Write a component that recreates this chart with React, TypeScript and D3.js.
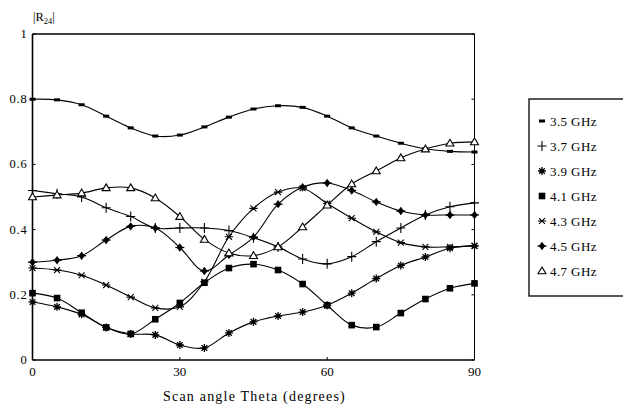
import React from "react";
import * as d3 from "d3";

const angles = [0, 5, 10, 15, 20, 25, 30, 35, 40, 45, 50, 55, 60, 65, 70, 75, 80, 85, 90];
const s35 = [0.80, 0.798, 0.783, 0.748, 0.712, 0.687, 0.69, 0.715, 0.745, 0.77, 0.78, 0.775, 0.748, 0.712, 0.687, 0.665, 0.648, 0.64, 0.638];
const s37 = [0.52, 0.51, 0.50, 0.467, 0.44, 0.405, 0.405, 0.405, 0.397, 0.375, 0.347, 0.31, 0.295, 0.317, 0.363, 0.405, 0.445, 0.47, 0.482];
const s39 = [0.178, 0.163, 0.14, 0.10, 0.08, 0.077, 0.046, 0.037, 0.083, 0.117, 0.135, 0.147, 0.168, 0.205, 0.25, 0.29, 0.316, 0.343, 0.35];
const s41 = [0.205, 0.19, 0.145, 0.10, 0.08, 0.125, 0.175, 0.237, 0.282, 0.294, 0.276, 0.233, 0.168, 0.107, 0.101, 0.144, 0.187, 0.22, 0.235];
const s43 = [0.282, 0.276, 0.26, 0.23, 0.193, 0.16, 0.163, 0.24, 0.378, 0.465, 0.515, 0.527, 0.48, 0.435, 0.393, 0.36, 0.347, 0.347, 0.35];
const s45 = [0.30, 0.306, 0.32, 0.368, 0.41, 0.405, 0.345, 0.273, 0.322, 0.377, 0.478, 0.53, 0.543, 0.52, 0.485, 0.457, 0.445, 0.445, 0.445];
const s47 = [0.50, 0.506, 0.512, 0.528, 0.528, 0.497, 0.44, 0.37, 0.328, 0.32, 0.347, 0.408, 0.475, 0.54, 0.58, 0.62, 0.647, 0.665, 0.669];

const seriesLabels = ["3.5 GHz", "3.7 GHz", "3.9 GHz", "4.1 GHz", "4.3 GHz", "4.5 GHz", "4.7 GHz"];
const markerTypes = ["dash", "plus", "star", "square", "xstar", "diamond", "triangle"];
const seriesValues = [s35, s37, s39, s41, s43, s45, s47];

const yTicks = [0, 0.2, 0.4, 0.6, 0.8, 1];
const yTickLabels = ["0", "0.2", "0.4", "0.6", "0.8", "1"];
const xTicks = [0, 30, 60, 90];

const font = "'Liberation Serif', 'DejaVu Serif', serif";

function Marker({ type, x, y }: { type: string; x: number; y: number }) {
  const s = 3.5;
  switch (type) {
    case "dash":
      return <rect x={x - 3} y={y - 1.5} width={6} height={3} fill="#000" />;
    case "plus":
      return (
        <path d={`M${x - s - 1},${y}H${x + s + 1}M${x},${y - s - 1.5}V${y + s + 1.5}`} stroke="#000" strokeWidth={1.1} fill="none" />
      );
    case "star": {
      const r = 4;
      let d = "";
      for (let i = 0; i < 4; i++) {
        const a = (Math.PI / 4) * i;
        d += `M${x - r * Math.cos(a)},${y - r * Math.sin(a)}L${x + r * Math.cos(a)},${y + r * Math.sin(a)}`;
      }
      return (
        <g>
          <path d={d} stroke="#000" strokeWidth={1.3} fill="none" />
          <circle cx={x} cy={y} r={1.8} fill="#000" />
        </g>
      );
    }
    case "square":
      return <rect x={x - 3.3} y={y - 3.3} width={6.6} height={6.6} fill="#000" />;
    case "xstar": {
      const r = 4.2;
      let d = "";
      const angs = [Math.PI / 4, -Math.PI / 4, 0];
      for (const a of angs) {
        d += `M${x - r * Math.cos(a)},${y - r * Math.sin(a)}L${x + r * Math.cos(a)},${y + r * Math.sin(a)}`;
      }
      return <path d={d} stroke="#000" strokeWidth={1.1} fill="none" />;
    }
    case "diamond":
      return (
        <g>
          <path d={`M${x},${y - 4.2}L${x + 3.2},${y}L${x},${y + 4.2}L${x - 3.2},${y}Z`} fill="#000" />
          <path d={`M${x - 4.5},${y}H${x + 4.5}`} stroke="#000" strokeWidth={1.3} />
        </g>
      );
    case "triangle":
      return <path d={`M${x},${y - 4}L${x + 4},${y + 2.8}L${x - 4},${y + 2.8}Z`} fill="#fff" stroke="#000" strokeWidth={1.1} />;
    default:
      return null;
  }
}

export default function App() {
  const W = 623;
  const H = 414;
  const x0 = 32.5;
  const x1 = 474.5;
  const yTop = 34;
  const yBot = 360;

  const x = d3.scaleLinear().domain([0, 90]).range([x0, x1]);
  const y = d3.scaleLinear().domain([0, 1]).range([yBot, yTop]);

  const line = d3
    .line<number>()
    .x((_, i) => x(angles[i]))
    .y((v) => y(v))
    .curve(d3.curveCatmullRom.alpha(0.5));

  const legX = 529;
  const legY = 99;
  const legH = 197;

  return (
    <svg
      width={W}
      height={H}
      style={{ position: "absolute", left: 0, top: 0, background: "#fff" }}
      fontFamily={font}
    >
      <rect x={0} y={0} width={W} height={H} fill="#fff" />
      {/* frame */}
      <line x1={x0} x2={x1} y1={yTop} y2={yTop} stroke="#000" strokeWidth={1.3} />
      <line x1={x1} x2={x1} y1={yTop} y2={yBot} stroke="#000" strokeWidth={1} />
      <line x1={x0} x2={x0} y1={yTop} y2={yBot} stroke="#000" strokeWidth={1.6} />
      <line x1={x0} x2={x1} y1={yBot} y2={yBot} stroke="#000" strokeWidth={1.3} />

      {/* y ticks */}
      {yTicks.map((t, i) => (
        <g key={"yt" + i}>
          <line x1={x0} x2={x0 + 3} y1={y(t)} y2={y(t)} stroke="#000" />
          <line x1={x1} x2={x1 - 3} y1={y(t)} y2={y(t)} stroke="#000" />
          <text x={x0 - 5} y={y(t) + 4} fontSize={12.5} textAnchor="end" letterSpacing={0.8}>
            {yTickLabels[i]}
          </text>
        </g>
      ))}
      {/* x ticks */}
      {xTicks.map((t, i) => (
        <g key={"xt" + i}>
          <line x1={x(t)} x2={x(t)} y1={yBot} y2={yBot - 3} stroke="#000" />
          <text x={x(t)} y={yBot + 16} fontSize={13} textAnchor="middle">
            {t}
          </text>
        </g>
      ))}

      {/* axis titles */}
      <text x={(x0 + x1) / 2 + 1} y={401} fontSize={14} textAnchor="middle" letterSpacing={1.2}>
        Scan angle Theta (degrees)
      </text>
      <text x={33} y={21} fontSize={12.5}>
        |R<tspan fontSize={8.5} dy={3}>24</tspan>
        <tspan dy={-3}>|</tspan>
      </text>

      {/* series */}
      {seriesValues.map((vals, si) => (
        <g key={"s" + si}>
          <path d={line(vals) || ""} fill="none" stroke="#000" strokeWidth={1.1} />
          {vals.map((v, i) => (
            <Marker key={i} type={markerTypes[si]} x={x(angles[i])} y={y(v)} />
          ))}
        </g>
      ))}

      {/* legend */}
      <rect x={legX} y={legY} width={120} height={legH} fill="#fff" stroke="#000" strokeWidth={1.3} />
      {seriesLabels.map((lab, i) => {
        const ly = 122 + i * 25;
        return (
          <g key={"l" + i}>
            <Marker type={markerTypes[i]} x={542} y={ly - 1} />
            <text x={550} y={ly + 4} fontSize={13} letterSpacing={0.4}>
              {lab}
            </text>
          </g>
        );
      })}
    </svg>
  );
}
